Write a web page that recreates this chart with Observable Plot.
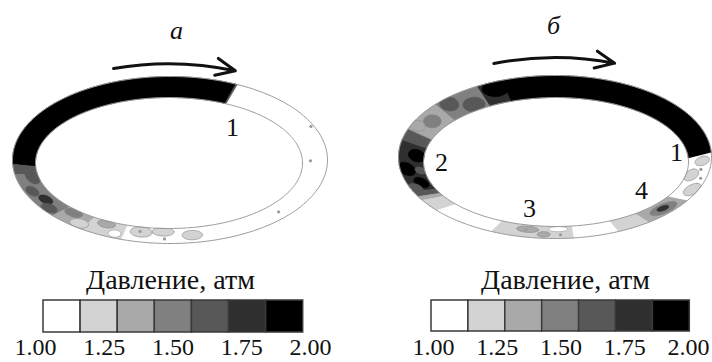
<!DOCTYPE html>
<html><head><meta charset="utf-8">
<script src="https://cdn.jsdelivr.net/npm/d3@7"></script>
<script src="https://cdn.jsdelivr.net/npm/@observablehq/plot@0.6"></script>
<style>html,body{margin:0;padding:0;background:#fff}svg{display:block}</style>
</head><body><div id="chart"></div>
<script>
// ---------- data ----------
const pressureTicks = [1.00, 1.25, 1.50, 1.75, 2.00];
const legendLevels = [1.07, 1.21, 1.36, 1.50, 1.64, 1.79, 1.93];
const grays = ["#ffffff", "#d3d3d3", "#a9a9a9", "#808080", "#585858", "#2f2f2f", "#000000"];
const legendTitle = "Давление, атм";
const panelLetters = ["а", "б"];
const pointLabelsA = ["1"];
const pointLabelsB = ["1", "2", "3", "4"];

// ring "а": [angle from, angle to (deg, ccw from east), pressure atm]
const ringA_base = [
  [64.5, 65.5, 1.6], [65.5, 183, 2.0], [183, 190, 1.7], [190, 222, 1.5],
  [222, 236, 1.4], [236, 252, 1.2], [252, 275, 1.0], [275, 424.5, 1.0]
];
// patches: [angle from, angle to, inner frac, outer frac, pressure]
const ringA_patches = [
  [184, 198, 0, 0.5, 1.65], [199, 207, 0.45, 0.85, 1.7], [207, 215, 0.25, 0.65, 1.75],
  [213, 221, 0.5, 0.95, 1.65], [222, 231, 0, 0.45, 1.5], [229, 237, 0.45, 0.95, 1.2],
  [239, 247, 0, 0.4, 1.4], [254, 263, 0.05, 0.6, 1.2], [263, 272, 0, 0.45, 1.2],
  [275, 283, 0.25, 0.75, 1.2], [246, 251, 0.5, 0.9, 1.0]
];
const ringA_dots = [[1, 0.32], [318, 0.55], [24.5, 0.9], [258, 0.3], [268, 0.7]];

// ring "б"
const ringB_base = [
  [3, 110, 2.0], [110, 120, 1.8], [120, 140, 1.55], [140, 160, 1.4],
  [160, 168, 1.6], [168, 205, 1.85], [205, 209, 1.6], [209, 212, 1.4],
  [212, 221, 1.2], [221, 246, 1.0], [246, 277, 1.2], [277, 294, 1.0],
  [294, 307, 1.2], [307, 328, 1.4], [328, 363, 1.05]
];
const ringB_patches = [
  [108, 119, 0.4, 1, 2.0], [121, 131, 0, 0.55, 1.65], [131, 139, 0.45, 1, 1.65],
  [144, 153, 0.25, 0.75, 1.5], [152, 159, 0.55, 1, 1.3], [171, 181, 0, 0.55, 2.0],
  [183, 193, 0.45, 1, 2.0], [194, 203, 0.15, 0.6, 2.0], [185, 191, 0, 0.35, 1.65],
  [199, 206, 0.55, 1, 1.65], [254, 263, 0.15, 0.55, 1.35], [267, 275, 0.05, 0.4, 1.0],
  [263, 268, 0.5, 0.85, 1.3], [311, 325, 0.25, 0.85, 1.55], [315, 321, 0.35, 0.65, 1.8],
  [331, 341, 0.45, 1, 1.2], [343, 353, 0, 0.5, 1.2], [355, 362, 0.35, 0.85, 1.2]
];
const ringB_dots = [[352, 0.6], [345, 0.75], [258, 0.4], [272, 0.7]];

// ---------- layout ----------
const W = 712, H = 362;
const geom = {
  a: {outer: {cx: 169.5, cy: 159.5, rx: 157.5, ry: 83.5}, inner: {cx: 168.5, cy: 162.5, rx: 133.5, ry: 65.5},
      arrow: {ryExtra: 14.5, from: 111, to: 65.5, bend: 11},
      letter: [176, 30], labels: [[232, 127]],
      legend: {x: 43, w: 37.1, y1: 300, y2: 332, title: [170, 280], tick0: 35, tick1: 310}},
  b: {outer: {cx: 554.5, cy: 156.5, rx: 156.5, ry: 81.5}, inner: {cx: 555.5, cy: 161.5, rx: 132.5, ry: 64.5},
      arrow: {ryExtra: 20, from: 113, to: 67.6, bend: 10},
      letter: [553, 25], labels: [[676, 152], [441, 162], [529, 208], [641, 190]],
      legend: {x: 431, w: 36.9, y1: 300, y2: 331, title: [565, 280], tick0: 433, tick1: 688}}
};

function pt(g, th, f) {
  const t = th * Math.PI / 180, c = Math.cos(t), s = Math.sin(t);
  const xi = g.inner.cx + g.inner.rx * c, yi = g.inner.cy - g.inner.ry * s;
  const xo = g.outer.cx + g.outer.rx * c, yo = g.outer.cy - g.outer.ry * s;
  return [xi + f * (xo - xi), yi + f * (yo - yi)];
}
let pid = 0;
function band(g, th0, th1, p) {
  const id = pid++, n = Math.max(2, Math.ceil(Math.abs(th1 - th0) / 0.5)), out = [];
  for (let i = 0; i <= n; i++) { const [x, y] = pt(g, th0 + (th1 - th0) * i / n, 1); out.push({x, y, p, id}); }
  for (let i = n; i >= 0; i--) { const [x, y] = pt(g, th0 + (th1 - th0) * i / n, 0); out.push({x, y, p, id}); }
  out.push({...out[0]});
  return out;
}
function blob(g, th0, th1, r0, r1, p) {
  const id = pid++, out = [], tc = (th0 + th1) / 2, dt = (th1 - th0) / 2;
  const fc = (r0 + r1) / 2, df = (r1 - r0) / 2 * 1.25;
  for (let i = 0; i <= 36; i++) {
    const a = i / 36 * 2 * Math.PI;
    const f = Math.max(0, Math.min(1, fc + df * Math.sin(a)));
    const [x, y] = pt(g, tc + dt * Math.cos(a), f);
    out.push({x, y, p, id});
  }
  return out;
}
const polys = [], contours = [];
for (const [key, base, patches] of [["a", ringA_base, ringA_patches], ["b", ringB_base, ringB_patches]]) {
  const g = geom[key];
  base.forEach(([a0, a1, p]) => polys.push(...band(g, a0, a1, p)));
  patches.forEach(([a0, a1, r0, r1, p]) => {
    const pp = blob(g, a0, a1, r0, r1, p);
    polys.push(...pp);
    if (p < 1.45) contours.push(...pp);
  });
}
const outlines = [];
for (const key of ["a", "b"]) {
  const g = geom[key];
  for (const f of [0, 1]) {
    const id = key + f;
    for (let th = 0; th <= 360; th += 1) { const [x, y] = pt(g, th, f); outlines.push({x, y, id}); }
  }
}
const dots = [];
[["a", ringA_dots], ["b", ringB_dots]].forEach(([k, arr]) => arr.forEach(([th, f]) => { const [x, y] = pt(geom[k], th, f); dots.push({x, y}); }));

const arrows = ["a", "b"].map(k => {
  const g = geom[k], o = g.outer, a = g.arrow, ry = o.ry + a.ryExtra;
  const P = th => [o.cx + o.rx * Math.cos(th * Math.PI / 180), o.cy - ry * Math.sin(th * Math.PI / 180)];
  const [x1, y1] = P(a.from), [x2, y2] = P(a.to);
  return {x1, y1, x2, y2, bend: a.bend};
});

const texts = [];
["a", "b"].forEach((k, i) => {
  texts.push({x: geom[k].letter[0], y: geom[k].letter[1], t: panelLetters[i], kind: "letter"});
  const labs = k === "a" ? pointLabelsA : pointLabelsB;
  labs.forEach((t, j) => texts.push({x: geom[k].labels[j][0], y: geom[k].labels[j][1], t, kind: "label"}));
  texts.push({x: geom[k].legend.title[0], y: geom[k].legend.title[1], t: legendTitle, kind: "title"});
  const L = geom[k].legend;
  pressureTicks.forEach(v => texts.push({x: L.tick0 + (v - 1) * (L.tick1 - L.tick0), y: 347, t: v.toFixed(2), kind: "tick"}));
});

const cells = [];
["a", "b"].forEach(k => {
  const L = geom[k].legend;
  legendLevels.forEach((p, i) => cells.push({x1: L.x + i * L.w, x2: L.x + (i + 1) * L.w, y1: L.y1, y2: L.y2, p}));
});

const thresholds = d3.range(1, 7).map(i => 1 + i / 7);

const chart = Plot.plot({
  width: W, height: H, margin: 0,
  style: {fontFamily: "'Liberation Serif', serif", background: "#fff"},
  x: {domain: [0, W], range: [0, W], axis: null},
  y: {domain: [0, H], range: [0, H], axis: null},
  color: {type: "threshold", domain: thresholds, range: grays},
  marks: [
    Plot.line(polys, {x: "x", y: "y", z: "id", fill: "p", stroke: "p", strokeWidth: 0.5, curve: "linear"}),
    Plot.line(contours, {x: "x", y: "y", z: "id", stroke: "#8c8c8c", strokeWidth: 0.6}),
    Plot.line(outlines, {x: "x", y: "y", z: "id", stroke: "#9a9a9a", strokeWidth: 1}),
    Plot.dot(dots, {x: "x", y: "y", r: 1.6, fill: "#9a9a9a"}),
    Plot.arrow(arrows, {x1: "x1", y1: "y1", x2: "x2", y2: "y2", bend: arrows[0].bend, stroke: "#111", strokeWidth: 3, headLength: 10.5, headAngle: 48}),
    Plot.rect(cells, {x1: "x1", x2: "x2", y1: "y1", y2: "y2", fill: "p", stroke: "#3a3a3a", strokeWidth: 1.5}),
    Plot.text(texts.filter(d => d.kind === "label"), {x: "x", y: "y", text: "t", fontSize: 26, fill: "#111"}),
    Plot.text(texts.filter(d => d.kind === "title"), {x: "x", y: "y", text: "t", fontSize: 28, fill: "#111"}),
    Plot.text(texts.filter(d => d.kind === "tick"), {x: "x", y: "y", text: "t", fontSize: 24, fill: "#111"}),
    Plot.text(texts.filter(d => d.kind === "letter"), {x: "x", y: "y", text: "t", fontSize: 26, fontStyle: "italic", fill: "#111"})
  ]
});
document.getElementById("chart").appendChild(chart);
</script>
</body></html>
